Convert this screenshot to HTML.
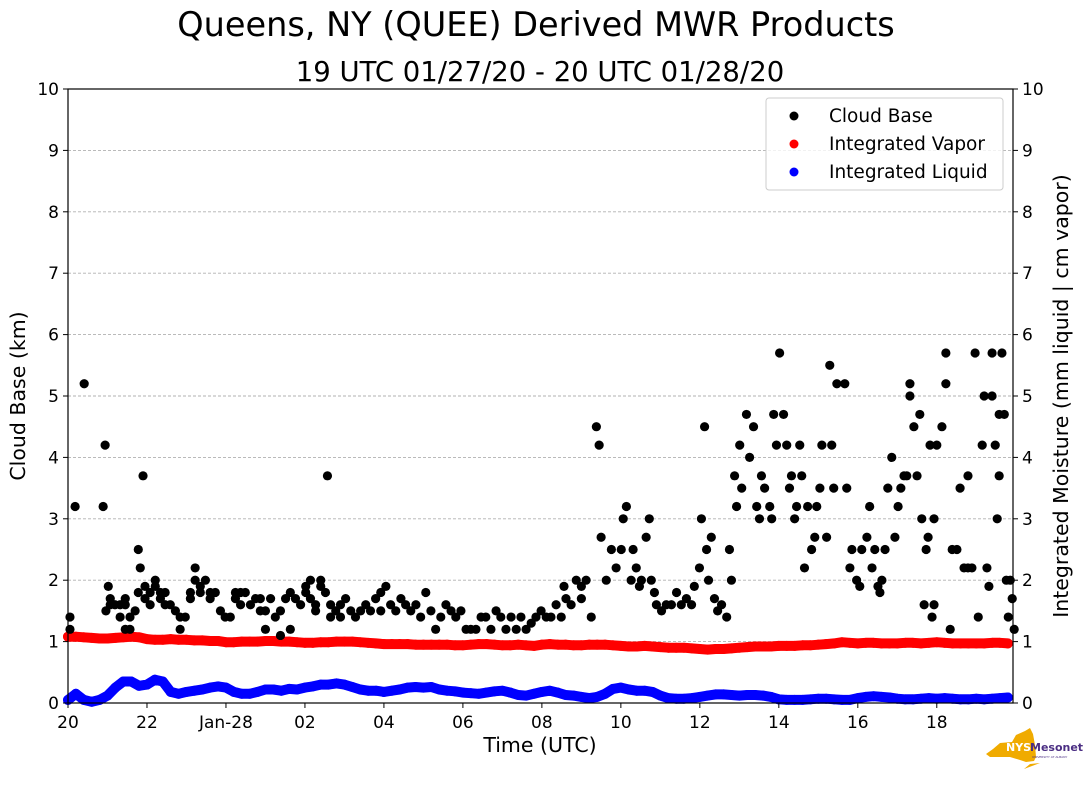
<!DOCTYPE html>
<html><head><meta charset="utf-8">
<style>
html,body{margin:0;padding:0;background:#fff;}
svg{display:block;font-family:"DejaVu Sans","Liberation Sans",sans-serif;}
</style></head>
<body>
<svg id="chart" width="1089" height="804" viewBox="0 0 1089 804">
<text x="536" y="36" font-size="33.5" text-anchor="middle">Queens, NY (QUEE) Derived MWR Products</text>
<text x="540" y="81" font-size="27.5" text-anchor="middle">19 UTC 01/27/20 - 20 UTC 01/28/20</text>
<g id="grid"></g>
<g id="liq"></g>
<g id="vap"></g>
<g id="cb"></g>
<rect x="68" y="89" width="945" height="614" fill="none" stroke="#000" stroke-width="1.2"/>
<g id="axes"></g>
<text x="540" y="752" font-size="20.5" text-anchor="middle">Time (UTC)</text>
<text transform="translate(25,396) rotate(-90)" font-size="20.5" text-anchor="middle">Cloud Base (km)</text>
<text transform="translate(1068,396) rotate(-90)" font-size="20.5" text-anchor="middle">Integrated Moisture (mm liquid | cm vapor)</text>
<g>
<rect x="766" y="98" width="237" height="92" rx="3" fill="#fff" fill-opacity="0.8" stroke="#ccc"/>
<circle cx="794" cy="116" r="4.5" fill="#000"/>
<text x="829" y="122" font-size="18.5">Cloud Base</text>
<circle cx="794" cy="144" r="4.5" fill="#f00"/>
<text x="829" y="150" font-size="18.5">Integrated Vapor</text>
<circle cx="794" cy="172" r="4.5" fill="#00f"/>
<text x="829" y="178" font-size="18.5">Integrated Liquid</text>
</g>
<g>
<path d="M1000 743 L1012 742 L1016 735 L1025 731 L1030 728 L1033 734 L1035 745 L1036 757 L1034 761 L1026 762 L1020 760 L1010 757 L990 757 L986 754 L993 749 Z" fill="#f0ab00"/>
<path d="M1030 764 L1040 763 L1024 769 Z" fill="#f0ab00"/>
<text x="1006" y="751" font-size="11" font-weight="bold" fill="#fff">NYS</text>
<text x="1030" y="751" font-size="11" font-weight="bold" fill="#4b2e83">Mesonet</text>
<text x="1032" y="758" font-size="3" fill="#4b2e83">UNIVERSITY AT ALBANY</text>
</g>
</svg>
<script>
const cbTime=[0.05,0.05,0.18,0.41,0.89,0.94,0.96,1.02,1.07,1.07,1.19,1.32,1.32,1.45,1.45,1.45,1.57,1.57,1.7,1.78,1.78,1.83,1.9,1.95,1.95,2.08,2.08,2.21,2.21,2.34,2.34,2.46,2.46,2.59,2.72,2.84,2.84,2.97,3.1,3.1,3.22,3.22,3.35,3.35,3.48,3.6,3.6,3.73,3.86,3.98,4.11,4.24,4.24,4.37,4.37,4.49,4.62,4.75,4.87,4.87,5.0,5.0,5.13,5.25,5.38,5.38,5.51,5.63,5.63,5.76,5.89,6.02,6.02,6.14,6.14,6.27,6.27,6.4,6.4,6.52,6.57,6.65,6.65,6.78,6.9,6.9,7.03,7.16,7.28,7.41,7.54,7.66,7.79,7.92,7.92,8.05,8.17,8.3,8.43,8.55,8.68,8.81,8.93,9.06,9.19,9.31,9.44,9.57,9.7,9.82,9.95,10.08,10.2,10.33,10.46,10.58,10.71,10.84,10.96,11.09,11.22,11.35,11.47,11.6,11.73,11.85,11.98,12.11,12.23,12.36,12.49,12.56,12.61,12.74,12.87,13.0,13.0,13.12,13.25,13.38,13.45,13.5,13.63,13.76,13.88,14.01,14.06,14.14,14.26,14.31,14.39,14.47,14.52,14.64,14.72,14.77,14.85,14.9,15.03,15.15,15.28,15.41,15.53,15.66,15.79,15.86,15.99,16.04,16.12,16.17,16.22,16.29,16.37,16.45,16.55,16.68,16.75,16.8,16.88,16.93,17.01,17.06,17.18,17.26,17.36,17.44,17.51,17.56,17.64,17.77,17.82,17.87,17.94,18.02,18.12,18.2,18.27,18.32,18.4,18.45,18.53,18.58,18.65,18.73,18.83,18.91,18.96,19.04,19.09,19.21,19.29,19.34,19.39,19.47,19.67,19.72,19.8,19.85,19.97,20.05,20.1,20.23,20.3,20.36,20.43,20.51,20.56,20.61,20.69,20.76,20.86,20.94,21.02,21.09,21.17,21.24,21.32,21.32,21.42,21.5,21.57,21.62,21.68,21.73,21.78,21.83,21.88,21.93,21.93,22.0,22.13,22.23,22.23,22.34,22.39,22.51,22.59,22.69,22.79,22.79,22.89,22.97,23.05,23.15,23.2,23.27,23.32,23.4,23.4,23.48,23.53,23.58,23.58,23.65,23.71,23.76,23.81,23.86,23.91,23.96];
const cbKm=[1.2,1.4,3.2,5.2,3.2,4.2,1.5,1.9,1.7,1.6,1.6,1.4,1.6,1.2,1.6,1.7,1.2,1.4,1.5,1.8,2.5,2.2,3.7,1.9,1.7,1.6,1.8,1.9,2.0,1.8,1.7,1.6,1.8,1.6,1.5,1.4,1.2,1.4,1.7,1.8,2.0,2.2,1.9,1.8,2.0,1.8,1.7,1.8,1.5,1.4,1.4,1.7,1.8,1.6,1.8,1.8,1.6,1.7,1.5,1.7,1.2,1.5,1.7,1.4,1.1,1.5,1.7,1.8,1.2,1.7,1.6,1.9,1.8,2.0,1.7,1.6,1.5,2.0,1.9,1.8,3.7,1.6,1.4,1.5,1.6,1.4,1.7,1.5,1.4,1.5,1.6,1.5,1.7,1.8,1.5,1.9,1.6,1.5,1.7,1.6,1.5,1.6,1.4,1.8,1.5,1.2,1.4,1.6,1.5,1.4,1.5,1.2,1.2,1.2,1.4,1.4,1.2,1.5,1.4,1.2,1.4,1.2,1.4,1.2,1.3,1.4,1.5,1.4,1.4,1.6,1.4,1.9,1.7,1.6,2.0,1.7,1.9,2.0,1.4,4.5,4.2,2.7,2.0,2.5,2.2,2.5,3.0,3.2,2.0,2.5,2.2,1.9,2.0,2.7,3.0,2.0,1.8,1.6,1.5,1.6,1.6,1.8,1.6,1.7,1.6,1.9,2.2,3.0,4.5,2.5,2.0,2.7,1.7,1.5,1.6,1.4,2.5,2.0,3.7,3.2,4.2,3.5,4.7,4.0,4.5,3.2,3.0,3.7,3.5,3.2,3.0,4.7,4.2,5.7,4.7,4.2,3.5,3.7,3.0,3.2,4.2,3.7,2.2,3.2,2.5,2.7,3.2,3.5,4.2,2.7,5.5,4.2,3.5,5.2,5.2,3.5,2.2,2.5,2.0,1.9,2.5,2.7,3.2,2.2,2.5,1.9,1.8,2.0,2.5,3.5,4.0,2.7,3.2,3.5,3.7,3.7,5.2,5.0,4.5,3.7,4.7,3.0,1.6,2.5,2.7,4.2,1.4,1.6,3.0,4.2,4.5,5.7,5.2,1.2,2.5,2.5,3.5,2.2,2.2,3.7,2.2,5.7,1.4,4.2,5.0,2.2,1.9,5.0,5.7,4.2,3.0,4.7,3.7,5.7,4.7,2.0,1.4,2.0,1.7,1.2];
const sampleStep=0.2;
const vapor=[1.08,1.08,1.07,1.06,1.05,1.05,1.06,1.07,1.08,1.07,1.04,1.03,1.03,1.04,1.03,1.03,1.02,1.02,1.01,1.01,0.99,0.99,1.00,1.00,1.00,1.01,1.01,1.00,1.00,0.99,0.98,0.98,0.99,0.99,1.00,1.00,1.00,0.99,0.98,0.97,0.96,0.96,0.96,0.96,0.95,0.95,0.95,0.95,0.95,0.94,0.94,0.95,0.96,0.96,0.95,0.94,0.94,0.95,0.94,0.93,0.95,0.96,0.95,0.95,0.94,0.94,0.95,0.95,0.95,0.94,0.93,0.92,0.92,0.93,0.92,0.91,0.90,0.90,0.90,0.89,0.88,0.87,0.88,0.88,0.89,0.90,0.91,0.92,0.92,0.92,0.93,0.93,0.93,0.94,0.94,0.95,0.96,0.97,0.99,0.98,0.97,0.98,0.98,0.97,0.97,0.97,0.98,0.98,0.97,0.98,0.99,0.98,0.97,0.97,0.97,0.97,0.97,0.98,0.98,0.97,0.97];
const liquid=[0.05,0.15,0.05,0.02,0.05,0.12,0.25,0.35,0.35,0.28,0.3,0.38,0.35,0.18,0.15,0.18,0.2,0.22,0.25,0.27,0.25,0.18,0.15,0.15,0.18,0.22,0.22,0.2,0.23,0.22,0.25,0.27,0.3,0.3,0.32,0.3,0.26,0.22,0.2,0.2,0.18,0.2,0.22,0.25,0.26,0.25,0.26,0.22,0.2,0.19,0.17,0.16,0.15,0.17,0.19,0.2,0.17,0.13,0.12,0.15,0.18,0.2,0.17,0.13,0.12,0.1,0.08,0.1,0.15,0.23,0.25,0.22,0.2,0.2,0.18,0.12,0.08,0.07,0.07,0.08,0.1,0.12,0.14,0.14,0.13,0.12,0.13,0.13,0.12,0.1,0.06,0.05,0.05,0.05,0.06,0.07,0.07,0.06,0.05,0.05,0.08,0.1,0.11,0.1,0.09,0.07,0.06,0.06,0.07,0.08,0.07,0.08,0.07,0.06,0.06,0.07,0.06,0.07,0.08,0.09,0.06];
const yTicks=[0,1,2,3,4,5,6,7,8,9,10];
const xTickHours=[0,2,4,6,8,10,12,14,16,18,20,22];
const xTickLabels=["20","22","Jan-28","02","04","06","08","10","12","14","16","18"];

const NS="http://www.w3.org/2000/svg";
const X0=68,X1=1013,Y0=703,Y1=89,HOURS=23.93;
function xs(h){return X0+(h/HOURS)*(X1-X0);}
function ys(v){return Y0-(v/10)*(Y0-Y1);}
function mk(tag,attrs,parent){const e=document.createElementNS(NS,tag);for(const k in attrs)e.setAttribute(k,attrs[k]);parent.appendChild(e);return e;}
const grid=document.getElementById('grid'),axes=document.getElementById('axes');
yTicks.forEach(t=>{
  const y=ys(t);
  if(t>0&&t<10){const g=mk('line',{x1:X0,x2:X1,y1:y,y2:y,stroke:'#b0b0b0','stroke-dasharray':'3,2','stroke-width':0.9},grid);
  
  }
  mk('line',{x1:X0-5,x2:X0,y1:y,y2:y,stroke:'#000'},axes);
  mk('line',{x1:X1,x2:X1+5,y1:y,y2:y,stroke:'#000'},axes);
  const l=mk('text',{x:X0-9,y:y+6,'font-size':17,'text-anchor':'end'},axes);l.textContent=t;
  
  
  const r=mk('text',{x:X1+9,y:y+6,'font-size':17},axes);r.textContent=t;
  
  
});
xTickHours.forEach((h,i)=>{
  const x=xs(h);
  mk('line',{x1:x,x2:x,y1:Y0,y2:Y0+5,stroke:'#000'},axes);
  const t=mk('text',{x:x,y:Y0+25,'font-size':17,'text-anchor':'middle'},axes);t.textContent=xTickLabels[i];
  
  
});
function band(arr,color,g,name){
  const pts=[];
  arr.forEach((v,i)=>{const h=i*sampleStep;if(h>HOURS)return;pts.push(xs(h).toFixed(1)+','+ys(v).toFixed(1));});
  const pl=mk('polyline',{points:pts.join(' '),fill:'none',stroke:color,'stroke-width':10,'stroke-linejoin':'round','stroke-linecap':'round'},g);
  
  
  arr.forEach((v,i)=>{const h=i*sampleStep;if(h>HOURS)return;
    const c=mk('circle',{cx:xs(h),cy:ys(v),r:5,fill:color},g);
    
    });
}
band(liquid,'#0000ff',document.getElementById('liq'),'liquid');
band(vapor,'#ff0000',document.getElementById('vap'),'vapor');
const cbG=document.getElementById('cb');
cbTime.forEach((h,i)=>{
  const c=mk('circle',{cx:xs(h),cy:ys(cbKm[i]),r:4.6,fill:'#000'},cbG);
  
  });
</script>
</body></html>
